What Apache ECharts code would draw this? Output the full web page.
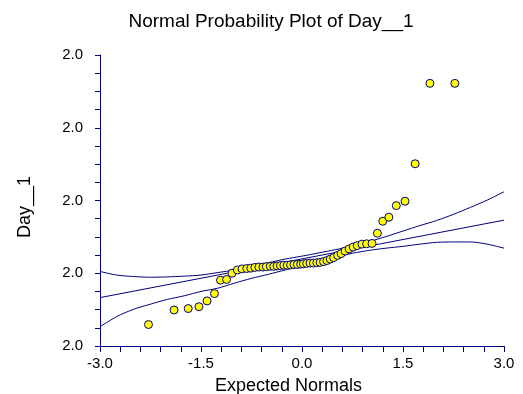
<!DOCTYPE html>
<html><head><meta charset="utf-8">
<script src="https://cdn.jsdelivr.net/npm/echarts@6/dist/echarts.min.js"></script>
<style>html,body{margin:0;padding:0;background:#fff}#c{width:523px;height:394px}</style>
</head><body><div id="c"></div>
<script>
const chartTitle = 'Normal Probability Plot of Day__1';
const xAxisTitle = 'Expected Normals';
const yAxisTitle = 'Day__1';

const expectedNormals = [-2.28,-1.90,-1.69,-1.53,-1.41,-1.30,-1.21,-1.12,-1.04,
  -0.96,-0.89,-0.82,-0.76,-0.70,-0.64,-0.58,-0.53,-0.47,-0.42,-0.37,-0.32,-0.27,-0.22,-0.17,-0.12,-0.07,-0.02,
  0.02,0.07,0.12,0.17,0.22,0.27,0.32,0.37,0.42,0.47,0.53,0.58,0.64,0.70,0.76,0.82,0.89,0.96,
  1.04,1.12,1.20,1.29,1.40,1.53,1.68,1.90,2.27];
const dayValues = [1.9659,1.9699,1.9703,1.9708,1.9724,1.9744,1.9781,1.9783,1.9800,
  1.9809,1.9812,1.9813,1.9814,1.9816,1.9817,1.9817,1.9818,1.9819,1.9819,1.9820,1.9821,1.9822,1.9822,1.9823,1.9824,1.9824,1.9825,
  1.9826,1.9827,1.9828,1.9828,1.9829,1.9830,1.9832,1.9835,1.9839,1.9843,1.9849,1.9854,1.9861,1.9867,1.9872,1.9876,1.9880,1.9881,
  1.9882,1.9910,1.9943,1.9954,1.9986,1.9998,2.0101,2.0322,2.0322];

const fitX = [-3, 3];
const fitY = [1.9733, 1.9946];

const bandX = [-3,-2.75,-2.5,-2.25,-2,-1.75,-1.5,-1.25,-1,-0.75,-0.5,-0.25,0,0.25,0.5,0.75,1,1.25,1.5,1.75,2,2.25,2.5,2.75,3];
const upperBand = [1.9805,1.9795,1.9791,1.9789,1.9790,1.9792,1.9795,1.9802,1.9809,1.9820,1.9829,1.9839,1.9847,1.9856,1.9865,1.9875,1.9887,1.9901,1.9916,1.9931,1.9945,1.9962,1.9981,2.0001,2.0024];
const lowerBand = [1.9653,1.9681,1.9701,1.9715,1.9728,1.9738,1.9750,1.9759,1.9773,1.9786,1.9797,1.9809,1.9820,1.9831,1.9844,1.9855,1.9863,1.9869,1.9874,1.9880,1.9885,1.9886,1.9886,1.9880,1.9869];

const xTickStep = 1.5;
const yTickStep = 0.02;
const yMin = 1.96, yMax = 2.04;

const navy = '#000080';
const font = 'Arial, "Liberation Sans", sans-serif';

const pair = (xs, ys) => xs.map((x, i) => [x, ys[i]]);

const chart = echarts.init(document.getElementById('c'), null, {renderer: 'canvas'});
chart.setOption({
  animation: false,
  backgroundColor: '#fff',
  grid: {left: 100, right: 19, top: 55, bottom: 48},
  graphic: [
    {type: 'text', x: 271, y: 22, style: {text: chartTitle, font: '19px ' + font, fill: '#000', align: 'center', verticalAlign: 'middle'}},
    {type: 'text', x: 288.5, y: 386, style: {text: xAxisTitle, font: '18px ' + font, fill: '#000', align: 'center', verticalAlign: 'middle'}},
    {type: 'text', x: 25, y: 207, rotation: Math.PI / 2, style: {text: yAxisTitle, font: '18px ' + font, fill: '#000', align: 'center', verticalAlign: 'middle'}}
  ],
  xAxis: {
    type: 'value', min: -3, max: 3, interval: xTickStep,
    axisLine: {show: true, onZero: false, lineStyle: {color: navy, width: 1}},
    axisTick: {show: true, length: 6, lineStyle: {color: navy}},
    minorTick: {show: true, splitNumber: 5, length: 6, lineStyle: {color: navy}},
    splitLine: {show: false}, minorSplitLine: {show: false},
    axisLabel: {formatter: v => v.toFixed(1), fontSize: 15, fontFamily: font, color: '#000', margin: 10}
  },
  yAxis: {
    type: 'value', min: yMin, max: yMax, interval: yTickStep,
    axisLine: {show: true, onZero: false, lineStyle: {color: navy, width: 1}},
    axisTick: {show: true, length: 5, lineStyle: {color: navy}},
    minorTick: {show: true, splitNumber: 4, length: 5, lineStyle: {color: navy}},
    splitLine: {show: false}, minorSplitLine: {show: false},
    axisLabel: {formatter: v => v.toFixed(1), fontSize: 15, fontFamily: font, color: '#000', margin: 17}
  },
  series: [
    {type: 'line', data: pair(fitX, fitY), showSymbol: false, lineStyle: {color: navy, width: 1}, z: 2},
    {type: 'line', data: pair(bandX, upperBand), smooth: 0.3, showSymbol: false, lineStyle: {color: navy, width: 1}, z: 2},
    {type: 'line', data: pair(bandX, lowerBand), smooth: 0.3, showSymbol: false, lineStyle: {color: navy, width: 1}, z: 2},
    {type: 'scatter', data: pair(expectedNormals, dayValues), symbol: 'circle', symbolSize: 8,
     itemStyle: {color: '#FFFF00', borderColor: navy, borderWidth: 1, opacity: 1}, z: 5}
  ]
});
</script>
</body></html>
